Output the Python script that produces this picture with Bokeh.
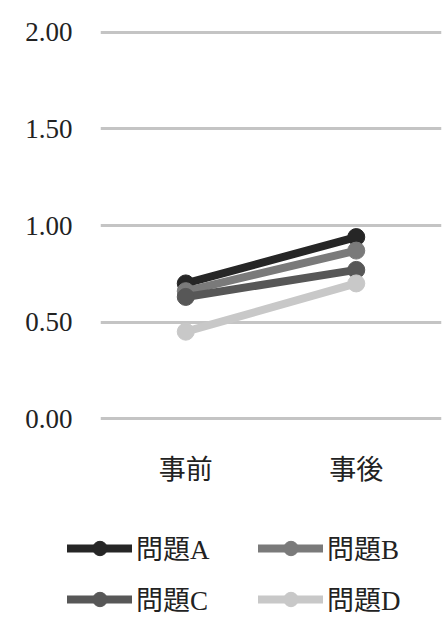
from bokeh.plotting import figure
from bokeh.layouts import column, row
from bokeh.models import Legend, LegendItem, FactorRange, Range1d, FixedTicker, NumeralTickFormatter
from bokeh.embed import file_html
from bokeh.resources import INLINE

categories = ["事前", "事後"]
series_names = ["問題A", "問題B", "問題C", "問題D"]
values_A = [0.70, 0.94]
values_B = [0.66, 0.87]
values_C = [0.63, 0.77]
values_D = [0.45, 0.70]
y_ticks = [0.0, 0.5, 1.0, 1.5, 2.0]

series_values = [values_A, values_B, values_C, values_D]
colors = ["#262626", "#7a7a7a", "#575757", "#c8c8c8"]

FONT = "'Liberation Serif', 'Noto Sans CJK JP'"

p = figure(width=446, height=490, x_range=FactorRange(*categories, range_padding=0),
           y_range=Range1d(-0.01, 2.01), output_backend="svg", toolbar_location=None,
           min_border_left=100, min_border_right=5, min_border_top=30, min_border_bottom=70)
p.outline_line_color = None
p.background_fill_color = "white"
p.border_fill_color = "white"

p.xgrid.grid_line_color = None
p.ygrid.grid_line_color = "#c4c4c4"
p.ygrid.grid_line_width = 3
p.yaxis.ticker = FixedTicker(ticks=y_ticks)
p.yaxis.formatter = NumeralTickFormatter(format="0.00")

for ax in (p.xaxis[0], p.yaxis[0]):
    ax.axis_line_color = None
    ax.major_tick_line_color = None
    ax.minor_tick_line_color = None
    ax.major_tick_out = 0
    ax.major_label_text_font = FONT
    ax.major_label_text_font_size = "27px"
    ax.major_label_text_color = "#222222"
p.yaxis.major_label_standoff = 28
p.xaxis.major_label_standoff = 34

# legend panel below the chart (its own series lie outside its visible y range)
p2 = figure(width=446, height=129, x_range=FactorRange(*categories),
            y_range=Range1d(10, 11), output_backend="svg", toolbar_location=None,
            x_axis_type=None, y_axis_type=None,
            min_border_left=0, min_border_right=0, min_border_top=0, min_border_bottom=0)
p2.outline_line_color = None
p2.xgrid.grid_line_color = None
p2.ygrid.grid_line_color = None

items = []
for name, vals, col in zip(series_names, series_values, colors):
    p.line(categories, vals, line_color=col, line_width=8, line_cap="round")
    p.scatter(categories, vals, size=17, fill_color=col, line_color=col)
    l1 = p2.line(categories, vals, line_color=col, line_width=8, line_cap="round")
    l2 = p2.scatter(categories, vals, size=17, fill_color=col, line_color=col)
    items.append(LegendItem(label=name, renderers=[l1, l2]))

legend = Legend(items=items, orientation="horizontal", ncols=2, location=(67, 1),
                glyph_width=65, glyph_height=36, label_width=110, label_height=36,
                label_standoff=4, spacing=12, padding=0, margin=0,
                label_text_font=FONT, label_text_font_size="27px",
                label_text_color="#222222", border_line_color=None,
                background_fill_alpha=0)
p2.add_layout(legend, "center")

layout = column(p, row(p2, spacing=0), spacing=0)
open("out.html", "w").write(file_html(layout, INLINE))
